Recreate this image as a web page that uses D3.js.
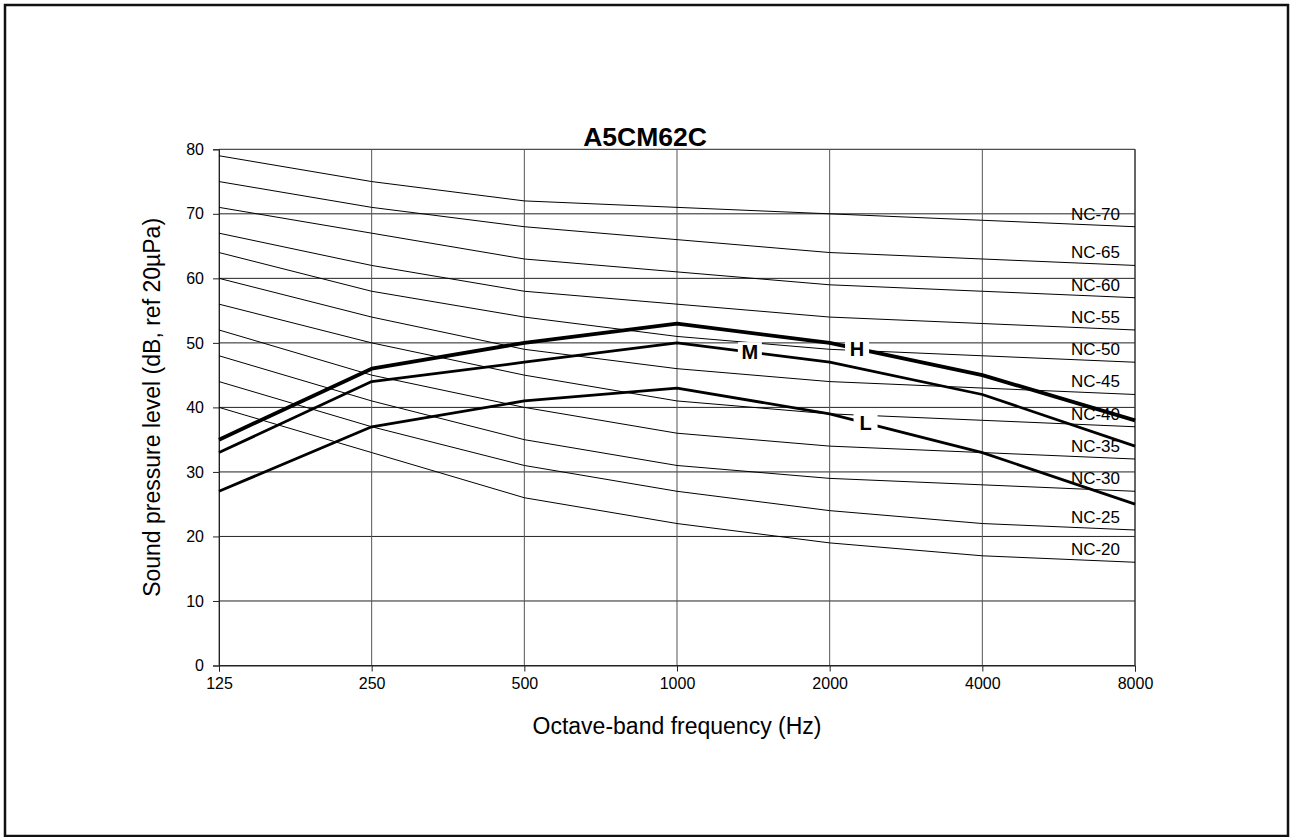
<!DOCTYPE html>
<html>
<head>
<meta charset="utf-8">
<script src="https://cdn.jsdelivr.net/npm/d3@7"></script>
<style>
    body { margin: 0; background: #fff; }
    text { font-family: Arial, "Liberation Sans", sans-serif; fill: #000; }
</style>
</head>
<body>
<div id="chart"></div>
<script>
// octave bands
const frequencies = [125, 250, 500, 1000, 2000, 4000, 8000];
const yTicks = [0, 10, 20, 30, 40, 50, 60, 70, 80];

// NC reference curves
const ncNames = ["NC-70", "NC-65", "NC-60", "NC-55", "NC-50", "NC-45", "NC-40", "NC-35", "NC-30", "NC-25", "NC-20"];
const nc70 = [79, 75, 72, 71, 70, 69, 68];
const nc65 = [75, 71, 68, 66, 64, 63, 62];
const nc60 = [71, 67, 63, 61, 59, 58, 57];
const nc55 = [67, 62, 58, 56, 54, 53, 52];
const nc50 = [64, 58, 54, 51, 49, 48, 47];
const nc45 = [60, 54, 49, 46, 44, 43, 42];
const nc40 = [56, 50, 45, 41, 39, 38, 37];
const nc35 = [52, 45, 40, 36, 34, 33, 32];
const nc30 = [48, 41, 35, 31, 29, 28, 27];
const nc25 = [44, 37, 31, 27, 24, 22, 21];
const nc20 = [40, 33, 26, 22, 19, 17, 16];
const ncValues = [nc70, nc65, nc60, nc55, nc50, nc45, nc40, nc35, nc30, nc25, nc20];

// unit fan speeds
const speedNames = ["H", "M", "L"];
const speedH = [35, 46, 50, 53, 50, 45, 38];
const speedM = [33, 44, 47, 50, 47, 42, 34];
const speedL = [27, 37, 41, 43, 39, 33, 25];
const speedValues = [speedH, speedM, speedL];
// where the letter sits along each line (frequency)
const speedLabelAt = [2265, 1392, 2354];

const width = 1290, height = 837;
const margin = { top: 149.3, right: 155, bottom: 171.5, left: 219 };

const svg = d3.select("#chart").append("svg")
    .attr("width", width)
    .attr("height", height);

// outer frame
svg.append("rect")
    .attr("x", 5).attr("y", 5)
    .attr("width", 1283).attr("height", 831)
    .attr("fill", "none")
    .attr("stroke", "#111")
    .attr("stroke-width", 2.5);

const x = d3.scaleLog()
    .domain([125, 8000])
    .range([margin.left, width - margin.right]);
const y = d3.scaleLinear()
    .domain([0, 80])
    .range([height - margin.bottom, margin.top]);

// grid
svg.append("g").selectAll("line")
    .data(yTicks)
    .join("line")
    .attr("x1", x(125)).attr("x2", x(8000))
    .attr("y1", d => y(d)).attr("y2", d => y(d))
    .attr("stroke", "#222").attr("stroke-width", 1);

svg.append("g").selectAll("line")
    .data(frequencies)
    .join("line")
    .attr("x1", d => x(d)).attr("x2", d => x(d))
    .attr("y1", y(0)).attr("y2", y(80))
    .attr("stroke", "#555").attr("stroke-width", 1);

// axes
const yAxis = svg.append("g")
    .attr("transform", `translate(${margin.left},0)`)
    .call(d3.axisLeft(y).tickValues(yTicks).tickSize(6).tickPadding(9));
const xAxis = svg.append("g")
    .attr("transform", `translate(0,${y(0)})`)
    .call(d3.axisBottom(x).tickValues(frequencies).tickFormat(d3.format("d")).tickSize(6).tickPadding(6));
[yAxis, xAxis].forEach(g => {
    g.attr("font-size", null).attr("font-family", null);
    g.select(".domain").attr("stroke", "#222");
    g.selectAll(".tick line").attr("stroke", "#222");
    g.selectAll(".tick text").style("font-size", "16px").attr("fill", "#000");
});
svg.append("line")
    .attr("x1", x(8000)).attr("x2", x(8000))
    .attr("y1", y(0)).attr("y2", y(80))
    .attr("stroke", "#222");

const line = d3.line()
    .x((d, i) => x(frequencies[i]))
    .y(d => y(d));

// NC curves
svg.append("g").selectAll("path")
    .data(ncValues)
    .join("path")
    .attr("d", line)
    .attr("fill", "none")
    .attr("stroke", "#000")
    .attr("stroke-width", 1);

svg.append("g").selectAll("text")
    .data(ncValues)
    .join("text")
    .attr("x", x(8000) - 15)
    .attr("y", d => y(d[d.length - 1]) - 13)
    .attr("dy", "0.35em")
    .attr("text-anchor", "end")
    .style("font-size", "17px")
    .text((d, i) => ncNames[i]);

// fan speed lines
const speedWidths = [3.8, 2.8, 2.8];
svg.append("g").selectAll("path")
    .data(speedValues)
    .join("path")
    .attr("d", line)
    .attr("fill", "none")
    .attr("stroke", "#000")
    .attr("stroke-width", (d, i) => speedWidths[i])
    .attr("stroke-linejoin", "round");

// labels on the lines
const interp = (vals, f) => {
    const lf = Math.log2(f / 125);
    const i = Math.min(Math.floor(lf), vals.length - 2);
    const t = lf - i;
    return vals[i] + (vals[i + 1] - vals[i]) * t;
};
const labels = svg.append("g").selectAll("g")
    .data(speedValues)
    .join("g")
    .attr("transform", (d, i) => `translate(${x(speedLabelAt[i])},${y(interp(d, speedLabelAt[i]))})`);
labels.append("rect")
    .attr("x", -12).attr("y", -10)
    .attr("width", 24).attr("height", 20)
    .attr("fill", "#fff");
labels.append("text")
    .attr("text-anchor", "middle")
    .attr("dy", "0.36em")
    .style("font-size", "20px")
    .attr("font-weight", "bold")
    .text((d, i) => speedNames[i]);

// titles
svg.append("text")
    .attr("x", width / 2)
    .attr("y", 146)
    .attr("text-anchor", "middle")
    .style("font-size", "26.5px")
    .attr("font-weight", "bold")
    .text("A5CM62C");

svg.append("text")
    .attr("x", (x(125) + x(8000)) / 2)
    .attr("y", 734)
    .attr("text-anchor", "middle")
    .style("font-size", "23px")
    .text("Octave-band frequency (Hz)");

svg.append("text")
    .attr("transform", `translate(160,${y(40)}) rotate(-90)`)
    .attr("text-anchor", "middle")
    .style("font-size", "23px")
    .text("Sound pressure level (dB, ref 20µPa)");
</script>
</body>
</html>
